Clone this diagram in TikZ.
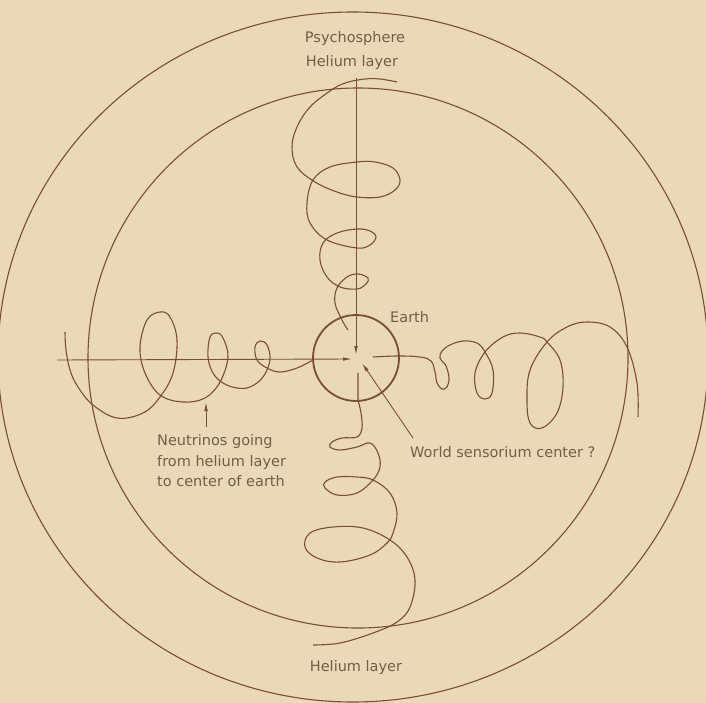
\documentclass[tikz,border=0pt]{standalone}
\usepackage{fontspec}
\setmainfont{DejaVu Sans}
\usetikzlibrary{arrows.meta}
\definecolor{paper}{RGB}{234,217,184}
\definecolor{ink}{RGB}{122,78,48}
\definecolor{letter}{RGB}{118,92,72}
\begin{document}
\begin{tikzpicture}[x=1pt, y=-1pt, >={Latex[length=9pt,width=3.6pt]},
    wire/.style={draw=ink, line width=1.1pt},
    axis/.style={draw=ink, line width=0.9pt},
    caption/.style={text=letter, font=\fontsize{14.5}{20.5}\selectfont, inner sep=0pt}]
  \fill[paper] (0,0) rectangle (706,703);
  \useasboundingbox (0,0) rectangle (706,703);
  \draw[wire] (353,357) ellipse [x radius=355pt, y radius=345pt];
  \draw[wire] (358,358) circle [radius=270pt];
  \draw[draw=ink, line width=1.8pt] (356,358) circle [radius=43pt];
  \node[caption] (psycho) at (355,39) {Psychosphere};
  \node[caption] (heliumtop) at (352,63) {Helium layer};
  \node[caption] (heliumbot) at (356,667) {Helium layer};
  \node[caption, anchor=west] (earth) at (390,317) {Earth};
  \node[caption, anchor=west] (sensor) at (410,452) {World sensorium center ?};
  \node[caption, anchor=west, align=left] (neutrino) at (157,461) {Neutrinos going\\from helium layer\\to center of earth};
  \coordinate (topend) at (356,78);
  \coordinate (toptip) at (356,355);
  \coordinate (leftend) at (57,360);
  \coordinate (lefttip) at (352,359);
  \coordinate (sensortail) at (413,438);
  \coordinate (sensortip) at (362,363);
  \coordinate (neutrinotail) at (206,427);
  \coordinate (neutrinotip) at (206,402);
  \draw[axis, ->] (topend) -- (toptip);
  \draw[axis, ->] (leftend) -- (lefttip);
  \draw[axis, ->] (sensortail) -- (sensortip);
  \draw[axis, ->] (neutrinotail) -- (neutrinotip);
  \draw[wire] plot[smooth, tension=0.62] coordinates {(397,82) (380,79) (365,79) (345,83) (330,91) (310,107) (297,127) (292,147) (297,167) (315,182) (337,192) (357,197) (380,197) (395,190) (400,180) (393,168) (375,162) (357,162) (330,167) (313,180) (307,203) (310,223) (327,240) (357,248) (370,245) (376,237) (370,231) (357,229) (337,233) (323,243) (320,260) (327,277) (340,287) (357,289) (366,284) (368,278) (358,274) (347,277) (337,288) (335,303) (342,320) (348,330)};
  \draw[wire] plot[smooth, tension=0.62] coordinates {(65,332) (66,350) (70,370) (78,387) (93,405) (117,418) (143,413) (160,397) (173,373) (177,340) (170,317) (160,312) (147,320) (140,347) (145,373) (160,395) (183,402) (205,398) (220,382) (228,357) (223,338) (217,333) (210,337) (208,357) (213,373) (223,383) (237,388) (250,387) (263,377) (270,360) (267,345) (260,341) (255,347) (257,360) (267,368) (280,372) (297,368) (313,360)};
  \draw[wire] plot[smooth, tension=0.62] coordinates {(373,357) (398,356) (420,357) (431,361) (435,372) (437,383) (442,389) (447,387) (449,378) (446,366) (440,358) (442,351) (450,345) (463,341) (477,343) (485,352) (493,370) (492,393) (485,399) (477,393) (475,373) (485,352) (503,337) (520,333) (540,337) (547,342) (560,360) (563,387) (557,413) (542,428) (530,423) (527,400) (530,370) (547,342) (567,327) (587,322) (610,327) (627,347) (637,383) (638,417)};
  \draw[wire] (358,373) -- (358,400) plot[smooth, tension=0.62] coordinates {(358,400) (361,413) (362,428) (357,437) (342,438) (332,442) (330,447) (340,450) (357,447) (370,443) (378,453) (380,467) (373,480) (357,493) (337,495) (325,488) (325,482) (337,477) (357,477) (373,480) (390,493) (397,513) (393,533) (387,543) (370,555) (340,562) (317,558) (305,547) (310,533) (333,527) (363,528) (390,540) (407,557) (415,580) (410,607) (397,622) (373,633) (340,643) (313,645)};
\end{tikzpicture}
\end{document}
